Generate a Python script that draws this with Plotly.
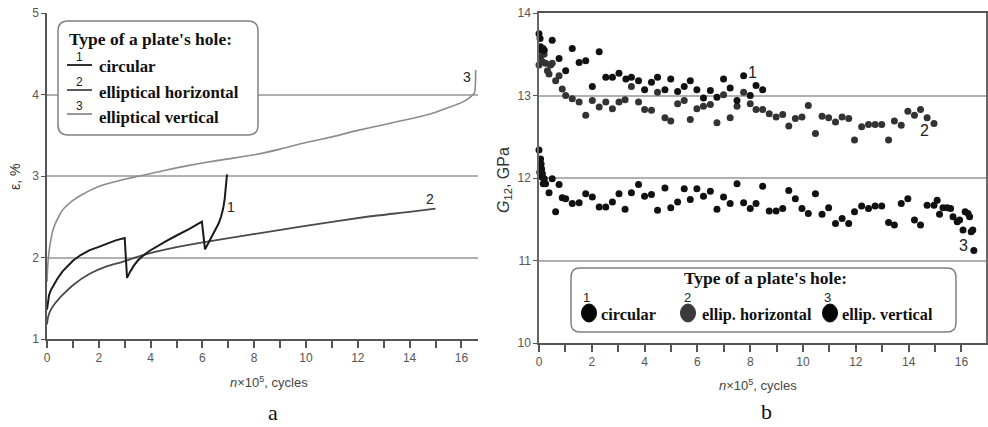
import plotly.graph_objects as go

W, H = 988, 427

# ---------- Panel a: strain curves ----------
a1_x = [0, 0.03, 0.08, 0.15, 0.25, 0.4, 0.6, 0.8, 1.0, 1.3, 1.65, 2.0, 2.3, 2.65, 3.0,
        3.09, 3.2, 3.35, 3.5, 3.7, 3.95, 4.3, 4.6, 5.0, 5.5, 5.98,
        6.1, 6.2, 6.35, 6.5, 6.63, 6.72, 6.8, 6.86, 6.91, 6.95]
a1_y = [1.36, 1.46, 1.54, 1.6, 1.66, 1.74, 1.83, 1.9, 1.96, 2.03, 2.09, 2.13, 2.17, 2.21, 2.24,
        1.75, 1.82, 1.9, 1.96, 2.02, 2.08, 2.15, 2.2, 2.27, 2.35, 2.44,
        2.1, 2.16, 2.25, 2.34, 2.42, 2.5, 2.6, 2.72, 2.86, 3.02]

a2_x = [0, 0.03, 0.08, 0.15, 0.25, 0.4, 0.6, 1.0, 1.65, 2.3, 2.95, 3.7, 5.05, 5.9, 7.85, 9.8, 12.35, 14.0, 15.0]
a2_y = [1.18, 1.25, 1.31, 1.36, 1.41, 1.47, 1.54, 1.66, 1.8, 1.89, 1.95, 2.03, 2.13, 2.18, 2.28, 2.38, 2.5, 2.56, 2.6]

a3_x = [0, 0.02, 0.05, 0.09, 0.14, 0.2, 0.3, 0.45, 0.65, 1.0, 1.4, 1.9, 2.5, 3.0, 3.7, 5.0, 6.0, 7.0, 8.0, 9.0,
        10.0, 11.0, 12.0, 13.0, 14.0, 14.8, 15.5, 16.0, 16.3, 16.5, 16.55]
a3_y = [1.7, 1.85, 1.98, 2.1, 2.2, 2.3, 2.4, 2.5, 2.6, 2.7, 2.78, 2.86, 2.92, 2.96, 3.01, 3.1, 3.16, 3.21, 3.26, 3.33,
        3.41, 3.48, 3.56, 3.63, 3.7, 3.76, 3.84, 3.9, 3.96, 4.02, 4.3]

# ---------- Panel b: shear modulus points ----------
b1_x = [0.0, 0.04, 0.06, 0.1, 0.15, 0.2, 0.5, 0.76, 1.01, 1.26, 1.52, 1.77, 2.02, 2.28, 2.53, 2.78, 3.03, 3.29, 3.5, 3.77, 4.0, 4.26, 4.49, 4.77, 4.99, 5.25, 5.5, 5.73, 5.98, 6.23, 6.49, 6.74, 6.99, 7.24, 7.5, 7.75, 8.0, 8.22, 8.47]
b1_y = [13.75, 13.69, 13.59, 13.55, 13.57, 13.55, 13.67, 13.45, 13.3, 13.57, 13.4, 13.42, 13.11, 13.53, 13.22, 13.22, 13.27, 13.2, 13.22, 13.18, 13.07, 13.16, 13.22, 13.07, 13.2, 13.05, 13.11, 13.18, 13.07, 12.97, 13.06, 12.98, 13.2, 13.09, 12.94, 13.24, 13.0, 13.12, 13.07]

b2_x = [0.0, 0.06, 0.13, 0.19, 0.25, 0.32, 0.38, 0.44, 0.5, 0.63, 0.76, 0.88, 1.01, 1.26, 1.52, 1.77, 2.02, 2.28, 2.53, 2.78, 3.03, 3.26, 3.5, 3.77, 4.0, 4.26, 4.49, 4.77, 4.99, 5.25, 5.5, 5.73, 5.98, 6.23, 6.49, 6.74, 6.99, 7.24, 7.5, 7.75, 8.0, 8.22, 8.47, 8.72, 8.98, 9.23, 9.46, 9.71, 9.96, 10.2, 10.47, 10.72, 10.97, 11.23, 11.48, 11.73, 11.95, 12.22, 12.48, 12.73, 12.98, 13.24, 13.46, 13.72, 13.97, 14.22, 14.45, 14.7, 14.96]
b2_y = [13.37, 13.47, 13.41, 13.5, 13.39, 13.3, 13.26, 13.37, 13.39, 13.18, 13.24, 13.08, 13.0, 12.96, 12.92, 12.76, 12.94, 12.86, 12.92, 12.84, 12.92, 12.95, 13.11, 12.92, 12.83, 12.82, 13.04, 12.73, 12.69, 12.9, 12.94, 12.71, 12.84, 12.87, 12.89, 12.67, 13.01, 12.73, 12.87, 13.04, 12.9, 12.83, 12.83, 12.78, 12.74, 12.77, 12.63, 12.72, 12.74, 12.88, 12.54, 12.75, 12.73, 12.68, 12.74, 12.72, 12.46, 12.62, 12.65, 12.65, 12.65, 12.46, 12.69, 12.64, 12.81, 12.76, 12.83, 12.73, 12.66]

b3_x = [0.0, 0.03, 0.06, 0.08, 0.1, 0.12, 0.13, 0.16, 0.2, 0.25, 0.38, 0.5, 0.63, 0.76, 0.88, 1.01, 1.26, 1.52, 1.77, 2.02, 2.28, 2.53, 2.78, 3.03, 3.26, 3.5, 3.77, 4.0, 4.26, 4.49, 4.77, 4.99, 5.25, 5.5, 5.73, 5.98, 6.23, 6.49, 6.74, 6.99, 7.24, 7.5, 7.75, 8.0, 8.22, 8.47, 8.72, 8.98, 9.23, 9.46, 9.71, 9.96, 10.2, 10.47, 10.72, 10.97, 11.23, 11.48, 11.73, 11.95, 12.22, 12.48, 12.73, 12.98, 13.24, 13.46, 13.72, 13.97, 14.22, 14.45, 14.7, 14.96, 15.08, 15.17, 15.3, 15.46, 15.59, 15.68, 15.84, 15.93, 16.06, 16.14, 16.25, 16.31, 16.37, 16.43, 16.47]
b3_y = [12.34, 12.07, 12.23, 12.17, 12.11, 12.01, 12.05, 11.93, 11.99, 11.93, 11.82, 11.99, 11.59, 11.92, 11.76, 11.75, 11.69, 11.7, 11.81, 11.77, 11.65, 11.65, 11.71, 11.81, 11.62, 11.82, 11.92, 11.78, 11.8, 11.61, 11.88, 11.64, 11.71, 11.87, 11.74, 11.87, 11.78, 11.84, 11.62, 11.77, 11.69, 11.93, 11.7, 11.63, 11.69, 11.9, 11.6, 11.6, 11.63, 11.85, 11.75, 11.63, 11.57, 11.81, 11.56, 11.64, 11.45, 11.51, 11.45, 11.59, 11.66, 11.63, 11.66, 11.66, 11.46, 11.43, 11.69, 11.75, 11.49, 11.43, 11.67, 11.67, 11.73, 11.56, 11.64, 11.64, 11.63, 11.53, 11.47, 11.49, 11.37, 11.59, 11.57, 11.53, 11.35, 11.37, 11.12]

x_ticks = [0, 2, 4, 6, 8, 10, 12, 14, 16]
a_yticks = [1, 2, 3, 4, 5]
b_yticks = [10, 11, 12, 13, 14]

legend_title = "Type of a plate's hole:"
a_legend = ["circular", "elliptical horizontal", "elliptical vertical"]
b_legend = ["circular", "ellip. horizontal", "ellip. vertical"]


def px(x):
    return x / W


def py(y):
    return 1 - y / H


fig = go.Figure()

fig.add_trace(go.Scatter(x=a3_x, y=a3_y, mode="lines", line=dict(color="#8c8c8c", width=1.6, shape="spline", smoothing=0.6),
                         xaxis="x", yaxis="y", showlegend=False))
fig.add_trace(go.Scatter(x=a2_x, y=a2_y, mode="lines", line=dict(color="#4a4a4a", width=1.8, shape="spline", smoothing=0.6),
                         xaxis="x", yaxis="y", showlegend=False))
fig.add_trace(go.Scatter(x=a1_x, y=a1_y, mode="lines", line=dict(color="#1a1a1a", width=2),
                         xaxis="x", yaxis="y", showlegend=False))

fig.add_trace(go.Scatter(x=b2_x, y=b2_y, mode="markers", marker=dict(color="#333333", size=7),
                         xaxis="x2", yaxis="y2", showlegend=False, cliponaxis=False))
fig.add_trace(go.Scatter(x=b1_x, y=b1_y, mode="markers", marker=dict(color="#111111", size=7),
                         xaxis="x2", yaxis="y2", showlegend=False, cliponaxis=False))
fig.add_trace(go.Scatter(x=b3_x, y=b3_y, mode="markers", marker=dict(color="#111111", size=7),
                         xaxis="x2", yaxis="y2", showlegend=False, cliponaxis=False))

tickfont = dict(family="Liberation Sans, Arial, sans-serif", size=12, color="#555555")
common_x = dict(tickmode="array", tickvals=x_ticks, ticks="outside",
                ticklen=7, tickwidth=1.5, tickcolor="#555555", showline=True, linecolor="#555555",
                minor=dict(dtick=1, tick0=0, ticks="outside", ticklen=7, tickwidth=1.5,
                           tickcolor="#555555", showgrid=False),
                linewidth=1.5, showgrid=False, zeroline=False, tickfont=tickfont, automargin=False)

fig.update_layout(
    width=W, height=H, autosize=False,
    margin=dict(l=0, r=0, t=0, b=0, pad=0),
    paper_bgcolor="white", plot_bgcolor="white",
    xaxis=dict(domain=[px(47), px(478)], range=[0, 16.64], anchor="y", **common_x),
    yaxis=dict(domain=[py(339), py(13)], range=[1, 5], anchor="x", tickvals=a_yticks,
               ticks="outside", ticklen=4, tickcolor="#555555", showline=True, linecolor="#555555",
               linewidth=1.5, showgrid=True, gridcolor="#b0b0b0", gridwidth=1.5, zeroline=False,
               tickfont=tickfont, automargin=False),
    xaxis2=dict(domain=[px(539), px(986)], range=[0, 16.93], anchor="y2", mirror=True, **common_x),
    yaxis2=dict(domain=[py(343), py(13)], range=[10, 14], anchor="x2", tickvals=b_yticks,
                ticks="outside", ticklen=4, tickcolor="#555555", showline=True, linecolor="#666666",
                linewidth=1.5, mirror=True, showgrid=True, gridcolor="#b0b0b0", gridwidth=1.5,
                zeroline=False, tickfont=tickfont, automargin=False),
)


def rounded_rect(x0, y0, x1, y1, r):
    X = lambda v: px(v)
    Y = lambda v: py(v)
    return (f"M {X(x0 + r)} {Y(y0)} L {X(x1 - r)} {Y(y0)} Q {X(x1)} {Y(y0)} {X(x1)} {Y(y0 + r)} "
            f"L {X(x1)} {Y(y1 - r)} Q {X(x1)} {Y(y1)} {X(x1 - r)} {Y(y1)} "
            f"L {X(x0 + r)} {Y(y1)} Q {X(x0)} {Y(y1)} {X(x0)} {Y(y1 - r)} "
            f"L {X(x0)} {Y(y0 + r)} Q {X(x0)} {Y(y0)} {X(x0 + r)} {Y(y0)} Z")


shapes = []
shapes.append(dict(type="path", xref="paper", yref="paper", path=rounded_rect(58, 21, 258, 135, 10),
                   line=dict(color="#808080", width=1.5), fillcolor="white", layer="above"))
leg_cols = ["#1a1a1a", "#4a4a4a", "#8c8c8c"]
leg_ys = [65, 90, 114]
for c, yy in zip(leg_cols, leg_ys):
    shapes.append(dict(type="line", xref="paper", yref="paper", x0=px(67), x1=px(92), y0=py(yy), y1=py(yy),
                       line=dict(color=c, width=1.8), layer="above"))
shapes.append(dict(type="path", xref="paper", yref="paper", path=rounded_rect(571, 268, 956, 332, 9),
                   line=dict(color="#808080", width=1.5), fillcolor="white", layer="above"))
mk_cols = ["#050505", "#3a3a3a", "#050505"]
mk_xs = [589, 688, 830]
for c, xx in zip(mk_cols, mk_xs):
    shapes.append(dict(type="circle", xref="paper", yref="paper", x0=px(xx - 7.5), x1=px(xx + 7.5),
                       y0=py(322), y1=py(304), line=dict(color=c, width=1), fillcolor=c, layer="above"))
fig.update_layout(shapes=shapes)

serif_t = dict(family="Liberation Serif, Times New Roman, serif", size=17.5, color="#111111")
serif_a = dict(family="Liberation Serif, Times New Roman, serif", size=16.8, color="#111111")
serif_b = dict(family="Liberation Serif, Times New Roman, serif", size=16.3, color="#111111")
ann = []


def A(x, y, text, font, xanchor="center", yanchor="middle", angle=0, ref="paper"):
    if ref == "paper":
        ann.append(dict(x=px(x), y=py(y), xref="paper", yref="paper", text=text, showarrow=False,
                        font=font, xanchor=xanchor, yanchor=yanchor, textangle=angle, borderpad=0))
    else:
        ann.append(dict(x=x, y=y, xref=ref[0], yref=ref[1], text=text, showarrow=False,
                        font=font, xanchor=xanchor, yanchor=yanchor, textangle=angle, borderpad=0))


A(68, 39, "<b>" + legend_title + "</b>", serif_t, xanchor="left")
for i, (t, yy) in enumerate(zip(a_legend, [67, 92, 117])):
    A(98, yy, "<b>" + t + "</b>", serif_a, xanchor="left")
    A(79, leg_ys[i] - 8, str(i + 1), dict(family="Liberation Sans, Arial", size=12, color="#222"))

A(765, 278, "<b>" + legend_title + "</b>", serif_t)
for i, (t, xx) in enumerate(zip(b_legend, [600, 701, 841])):
    A(xx, 314, "<b>" + t + "</b>", serif_b, xanchor="left")
    A([586, 687, 827][i], 297, str(i + 1), dict(family="Liberation Sans, Arial", size=13, color="#222"))

lab_font = dict(family="Liberation Sans, Arial, sans-serif", size=14, color="#222")
A(7.1, 2.62, "1", lab_font, ref=("x", "y"))
A(14.8, 2.72, "2", lab_font, ref=("x", "y"))
A(16.2, 4.22, "3", lab_font, ref=("x", "y"))
lab_font2 = dict(family="Liberation Sans, Arial, sans-serif", size=16, color="#222")
A(8.1, 13.28, "1", lab_font2, ref=("x2", "y2"))
A(14.6, 12.58, "2", lab_font2, ref=("x2", "y2"))
A(16.06, 11.18, "3", lab_font2, ref=("x2", "y2"))

tf = dict(family="Liberation Sans, Arial, sans-serif", size=13, color="#444444")
A(269, 382, "<i>n</i>×10<sup>5</sup>, cycles", tf)
A(758, 385, "<i>n</i>×10<sup>5</sup>, cycles", tf)
A(15, 177, "ε, %", dict(family="Liberation Sans, Arial, sans-serif", size=14, color="#333333"), angle=-90)
A(504, 180, "<i>G</i><sub>12</sub>, GPa", dict(family="Liberation Sans, Arial, sans-serif", size=16, color="#333"), angle=-90)

lf = dict(family="Liberation Serif, Times New Roman, serif", size=22, color="#111")
A(273, 412, "a", lf)
A(766, 411, "b", lf)

fig.update_layout(annotations=ann)
fig.write_html("out.html", config={"displayModeBar": False},
               post_script="document.body.style.margin='0';document.body.style.overflow='hidden';")
